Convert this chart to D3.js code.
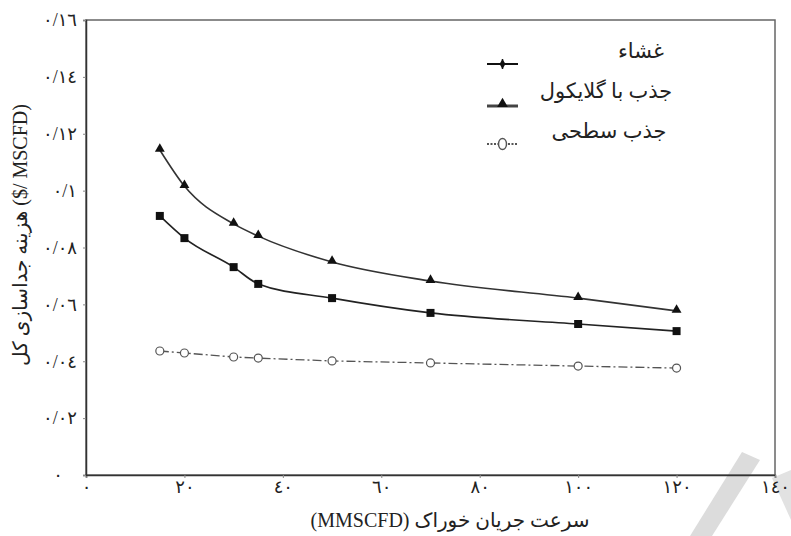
<!DOCTYPE html>
<html>
<head>
<meta charset="utf-8">
<script src="https://cdn.jsdelivr.net/npm/d3@7"></script>
<style>
  body { margin: 0; background: #fff; }
  svg text { font-family: "Liberation Serif", "DejaVu Sans", serif; fill: #222; }
</style>
</head>
<body>
<div id="chart"></div>
<script>
// feed flow rate (MMSCFD)
const flowRates = [15, 20, 30, 35, 50, 70, 100, 120];
// total separation cost ($/MSCFD)
const membraneCost = [0.0911, 0.0833, 0.0731, 0.0672, 0.0622, 0.0570, 0.0531, 0.0506];
const glycolCost = [0.1143, 0.1016, 0.0883, 0.0840, 0.0749, 0.0682, 0.0622, 0.0577];
const adsorptionCost = [0.0436, 0.0429, 0.0415, 0.0411, 0.0401, 0.0394, 0.0383, 0.0376];

const xTicks = [0, 20, 40, 60, 80, 100, 120, 140];
const yTicks = [0, 0.02, 0.04, 0.06, 0.08, 0.1, 0.12, 0.14, 0.16];
const seriesNames = ["غشاء", "جذب با گلایکول", "جذب سطحی"];

const width = 791, height = 536;
const margin = { top: 20, right: 16, bottom: 61, left: 86 };
const plotW = width - margin.left - margin.right;
const plotH = height - margin.top - margin.bottom;

// western digits -> arabic-indic, decimal point drawn as slash
const fa = s => String(s).replace(/[0-9]/g, d => "٠١٢٣٤٥٦٧٨٩"[+d]).replace(".", "/");
const fmtY = v => v === 0 ? fa(0) : fa(d3.format(".2~f")(v));

const svg = d3.select("#chart").append("svg").attr("width", width).attr("height", height);

// faint watermark strokes at the bottom right
svg.append("path").attr("d", "M742,452 L760,460 L712,536 L690,536 Z").attr("fill", "#dcdcdc");
svg.append("path").attr("d", "M772,478 L791,470 L791,520 Z").attr("fill", "#e2e2e2");

const g = svg.append("g").attr("transform", `translate(${margin.left},${margin.top})`);

const x = d3.scaleLinear().domain([0, 140]).range([0, plotW]);
const y = d3.scaleLinear().domain([0, 0.16]).range([plotH, 0]);

// frame
g.append("rect").attr("width", plotW).attr("height", plotH)
  .attr("fill", "none").attr("stroke", "#666").attr("stroke-width", 1.5);

const xAxis = g.append("g").attr("transform", `translate(0,${plotH})`)
  .call(d3.axisBottom(x).tickValues(xTicks).tickSize(3).tickPadding(4).tickFormat(fa));
const yAxis = g.append("g")
  .call(d3.axisLeft(y).tickValues(yTicks).tickSize(3).tickPadding(6).tickFormat(fmtY));
[xAxis, yAxis].forEach(a => {
  a.select(".domain").attr("stroke", "#333").attr("stroke-width", 1.5);
  a.selectAll(".tick line").attr("stroke", "#888");
  a.selectAll("text").attr("font-size", 18).attr("fill", "#222");
});
xAxis.selectAll("text").attr("dy", "0.6em");
yAxis.selectAll(".tick").filter(d => d === 0).select("text").attr("dx", -14);

const rows = vals => flowRates.map((f, i) => ({ x: f, y: vals[i] }));
const line = d3.line().x(d => x(d.x)).y(d => y(d.y)).curve(d3.curveMonotoneX);

// lines
g.append("path").datum(rows(glycolCost)).attr("d", line)
  .attr("fill", "none").attr("stroke", "#333").attr("stroke-width", 1.6);
g.append("path").datum(rows(membraneCost)).attr("d", line)
  .attr("fill", "none").attr("stroke", "#222").attr("stroke-width", 1.6);
g.append("path").datum(rows(adsorptionCost)).attr("d", d3.line().x(d => x(d.x)).y(d => y(d.y)))
  .attr("fill", "none").attr("stroke", "#555").attr("stroke-width", 1.3)
  .attr("stroke-dasharray", "9,3,2,3");

// markers
const tri = d3.symbol().type(d3.symbolTriangle).size(42);
const sq = d3.symbol().type(d3.symbolSquare).size(64);

g.selectAll(".tri").data(rows(glycolCost)).join("path")
  .attr("transform", d => `translate(${x(d.x)},${y(d.y) - 1})`)
  .attr("d", tri).attr("fill", "#111");
g.selectAll(".sq").data(rows(membraneCost)).join("path")
  .attr("transform", d => `translate(${x(d.x)},${y(d.y)})`)
  .attr("d", sq).attr("fill", "#111");
g.selectAll(".circ").data(rows(adsorptionCost)).join("circle")
  .attr("cx", d => x(d.x)).attr("cy", d => y(d.y)).attr("r", 4)
  .attr("fill", "#fff").attr("stroke", "#555").attr("stroke-width", 1.2);

// legend
const legend = svg.append("g");
const lx0 = 487, lx1 = 518;
const legendY = [64, 104, 144];
const legendTextX = [641, 606, 609];

// membrane: line with small cross/diamond
legend.append("line").attr("x1", lx0).attr("x2", lx1).attr("y1", legendY[0]).attr("y2", legendY[0])
  .attr("stroke", "#111").attr("stroke-width", 2);
legend.append("path").attr("transform", `translate(${(lx0 + lx1) / 2},${legendY[0]})`)
  .attr("d", d3.symbol().type(d3.symbolDiamond).size(30)).attr("fill", "#111");
legend.append("line").attr("x1", (lx0 + lx1) / 2).attr("x2", (lx0 + lx1) / 2)
  .attr("y1", legendY[0] - 5).attr("y2", legendY[0] + 5).attr("stroke", "#111").attr("stroke-width", 1.5);

// glycol: thick line with triangle
legend.append("line").attr("x1", lx0).attr("x2", lx1).attr("y1", legendY[1] + 2).attr("y2", legendY[1] + 2)
  .attr("stroke", "#444").attr("stroke-width", 3);
legend.append("path").attr("transform", `translate(${(lx0 + lx1) / 2},${legendY[1]})`)
  .attr("d", d3.symbol().type(d3.symbolTriangle).size(50)).attr("fill", "#111");

// adsorption: dotted line with circle
legend.append("line").attr("x1", lx0).attr("x2", lx1).attr("y1", legendY[2]).attr("y2", legendY[2])
  .attr("stroke", "#555").attr("stroke-width", 2).attr("stroke-dasharray", "2,1.5");
legend.append("ellipse").attr("cx", (lx0 + lx1) / 2).attr("cy", legendY[2]).attr("rx", 4).attr("ry", 5.5)
  .attr("fill", "#fff").attr("stroke", "#555").attr("stroke-width", 1.5);

legend.selectAll(".lt").data(seriesNames).join("text")
  .attr("x", (d, i) => legendTextX[i]).attr("y", (d, i) => legendY[i] - 6)
  .attr("text-anchor", "middle")
  .attr("font-size", 21).text(d => d);

// axis titles
svg.append("text").attr("x", 450).attr("y", 527)
  .attr("text-anchor", "middle").attr("font-size", 20)
  .text("(MMSCFD) سرعت جریان خوراک");

svg.append("text").attr("transform", `translate(27,235) rotate(-90)`)
  .attr("text-anchor", "middle").attr("font-size", 20)
  .text("هزینه جداسازی کل ($/ MSCFD)");
</script>
</body>
</html>
